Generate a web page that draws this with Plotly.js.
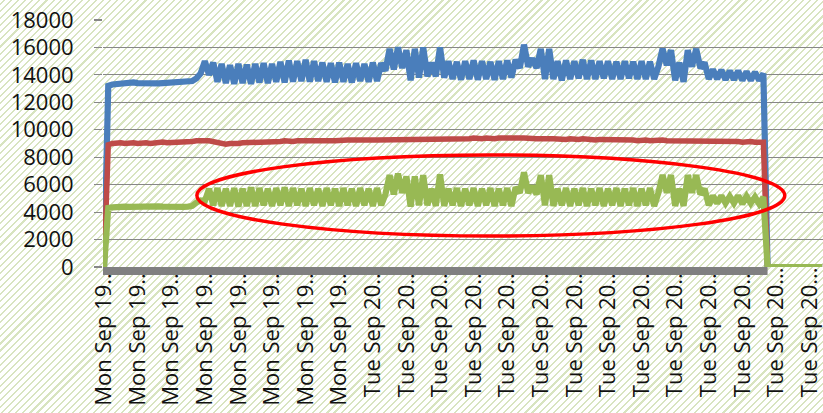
<!DOCTYPE html>
<html>
<head>
<meta charset="utf-8">
<script src="https://cdn.plot.ly/plotly-3.0.1.min.js"></script>
<style>
  html, body { margin: 0; padding: 0; }
  body {
    width: 823px; height: 413px; overflow: hidden;
    background-color: #ffffff;
    background-image: repeating-linear-gradient(-45deg, #d8e4c0 0px, #d8e4c0 1.5px, #ffffff 1.5px, #ffffff 5px);
  }
  #chart { width: 823px; height: 413px; }
</style>
</head>
<body>
<div id="chart"></div>
<script>
// Tick labels (one label every 8 samples)
const tickLabels = [
  "Mon Sep 19...", "Mon Sep 19...", "Mon Sep 19...", "Mon Sep 19...",
  "Mon Sep 19...", "Mon Sep 19...", "Mon Sep 19...", "Mon Sep 19...",
  "Tue Sep 20...", "Tue Sep 20...", "Tue Sep 20...", "Tue Sep 20...",
  "Tue Sep 20...", "Tue Sep 20...", "Tue Sep 20...", "Tue Sep 20...",
  "Tue Sep 20...", "Tue Sep 20...", "Tue Sep 20...", "Tue Sep 20...",
  "Tue Sep 20...", "Tue Sep 20..."
];
const labelEvery = 8;

// Series 1 (blue)
const seriesBlue = [
  0, 13200, 13300, 13350, 13400, 13450, 13400, 13450, 13400, 13380,
  13400, 13420, 13400, 13380, 13400, 13420, 13450, 13400, 13420, 13450,
  13500, 13550, 13750, 14100, 15000, 14000, 14900, 13500, 14800, 13400,
  14700, 13350, 14800, 13400, 14750, 13350, 14800, 13450, 14850, 13400,
  14800, 13500, 14950, 13450, 15050, 13500, 15000, 13550, 15100, 13500,
  15000, 13550, 14900, 13500, 14850, 13450, 14900, 13500, 14800, 13450,
  14850, 13550, 14800, 13500, 14900, 13550, 14850, 14300, 15900, 14400,
  16000, 14500, 15800, 13600, 15900, 13800, 16000, 13900, 14900, 13900,
  16000, 13800, 15000, 13700, 14950, 13650, 15000, 13700, 15050, 13650,
  15000, 13700, 14950, 13650, 15000, 13700, 15050, 13800, 15100, 14500,
  16200, 14600, 15200, 14500, 15900, 13700, 15900, 13700, 15000, 13600,
  15050, 13700, 15000, 13750, 15100, 13700, 15050, 13700, 15000, 13750,
  15000, 13700, 14950, 13700, 15000, 13750, 14950, 13700, 15000, 13700,
  14950, 13700, 14600, 15900, 14700, 15800, 13600, 14900, 13500, 15800,
  14600, 15900, 14500, 14900, 13700, 14400, 13700, 14350, 13650, 14300,
  13650, 14300, 13600, 14250, 13600, 14200, 13600, 14100, 0, 0,
  0, 0, 0, 0, 0, 0, 0, 0, 0, 0,
  0, 0
];

// Series 2 (red)
const seriesRed = [
  0, 8900, 9000, 9050, 9050, 9000, 9050, 9050, 9000, 9050,
  9050, 9000, 9050, 9050, 9100, 9050, 9050, 9100, 9100, 9050,
  9100, 9150, 9200, 9250, 9200, 9200, 9150, 9000, 8950, 8950,
  9000, 8950, 9000, 9050, 9050, 9100, 9050, 9100, 9100, 9150,
  9100, 9150, 9150, 9200, 9150, 9150, 9200, 9150, 9200, 9200,
  9150, 9200, 9200, 9250, 9200, 9200, 9250, 9200, 9250, 9250,
  9200, 9250, 9250, 9200, 9250, 9250, 9250, 9300, 9250, 9250,
  9300, 9250, 9300, 9300, 9250, 9300, 9300, 9350, 9300, 9300,
  9300, 9350, 9300, 9350, 9350, 9300, 9350, 9350, 9400, 9350,
  9350, 9400, 9350, 9350, 9400, 9350, 9400, 9400, 9350, 9400,
  9400, 9350, 9400, 9350, 9350, 9400, 9350, 9350, 9300, 9350,
  9300, 9350, 9300, 9300, 9350, 9300, 9300, 9250, 9300, 9300,
  9250, 9300, 9250, 9250, 9300, 9250, 9250, 9200, 9250, 9250,
  9200, 9250, 9200, 9250, 9200, 9200, 9250, 9200, 9200, 9150,
  9200, 9200, 9150, 9200, 9150, 9150, 9200, 9150, 9150, 9200,
  9150, 9150, 9100, 9150, 9150, 9100, 9150, 9100, 0, 0,
  0, 0, 0, 0, 0, 0, 0, 0, 0, 0,
  0, 0
];

// Series 3 (green)
const seriesGreen = [
  0, 4300, 4350, 4400, 4420, 4400, 4380, 4400, 4420, 4400,
  4380, 4400, 4400, 4420, 4400, 4380, 4400, 4420, 4400, 4380,
  4400, 4450, 4700, 4850, 4800, 5700, 4500, 5750, 4450, 5700,
  4450, 5750, 4400, 5700, 4450, 5800, 4450, 5750, 4500, 5700,
  4450, 5750, 4500, 5800, 4450, 5750, 4500, 5700, 4450, 5750,
  4500, 5700, 4450, 5750, 4500, 5700, 4450, 5750, 4500, 5700,
  4450, 5750, 4500, 5700, 4450, 5750, 4500, 5300, 6700, 5300,
  6800, 5400, 6600, 4400, 6600, 4500, 6700, 4500, 5700, 4450,
  6750, 4450, 5700, 4500, 5750, 4450, 5700, 4500, 5750, 4450,
  5700, 4500, 5750, 4450, 5700, 4500, 5750, 4450, 5800, 5400,
  6900, 5400, 5900, 5300, 6700, 4500, 6700, 4450, 5700, 4500,
  5750, 4450, 5700, 4500, 5750, 4450, 5700, 4500, 5750, 4450,
  5700, 4500, 5750, 4450, 5700, 4500, 5750, 4450, 5700, 4500,
  5750, 4450, 5400, 6700, 5400, 6700, 4450, 5700, 4450, 6700,
  5400, 6700, 5300, 5700, 4500, 5200, 4650, 5200, 4650, 5150,
  4650, 5200, 4600, 5150, 4650, 5100, 4600, 5100, 0, 0,
  0, 0, 0, 0, 0, 0, 0, 0, 0, 0,
  0, 0
];

const sampleIndex = seriesBlue.map((_, i) => i);
const tickPositions = tickLabels.map((_, k) => k * labelEvery);
// index where the recorded data stops (first zero after the plateau)
const lastDataIndex = seriesBlue.findIndex((v, i) => i > 0 && v === 0);

const traces = [
  { x: sampleIndex, y: seriesBlue, type: 'scatter', mode: 'lines',
    line: { color: '#4a7ebb', width: 6.2 }, hoverinfo: 'none' },
  { x: sampleIndex, y: seriesRed, type: 'scatter', mode: 'lines',
    line: { color: '#be4b48', width: 5.5 }, hoverinfo: 'none' },
  { x: sampleIndex, y: seriesGreen, type: 'scatter', mode: 'lines',
    line: { color: '#98b954', width: 6.2 }, hoverinfo: 'none' }
];

const layout = {
  width: 823, height: 413,
  margin: { l: 103, r: 0, t: 20, b: 146 },
  paper_bgcolor: 'rgba(0,0,0,0)',
  plot_bgcolor: 'rgba(0,0,0,0)',
  showlegend: false,
  font: { family: '"Open Sans", "Liberation Sans", sans-serif', size: 22, color: '#111111' },
  xaxis: {
    range: [-0.25, 171.2],
    tickmode: 'array', tickvals: tickPositions, ticktext: tickLabels,
    tickangle: -90, ticks: '', showgrid: false, zeroline: false, showline: false,
    tickfont: { size: 22, color: '#111111' },
    ticklabelstandoff: -5
  },
  yaxis: {
    range: [0, 18000], dtick: 2000, tick0: 0, tickformat: 'd',
    showgrid: true, gridcolor: '#878787', gridwidth: 1.2,
    zeroline: false, showline: false,
    ticks: 'outside', ticklen: 8, tickcolor: '#878787', tickwidth: 1.2,
    ticklabelstandoff: 16,
    tickfont: { size: 22, color: '#111111' }
  },
  shapes: [
    { type: 'rect', xref: 'x', yref: 'paper', x0: -0.25, x1: lastDataIndex,
      y0: -8 / 247, y1: 0, fillcolor: '#808080', line: { width: 0 }, layer: 'above' },
    { type: 'circle', xref: 'x', yref: 'y', x0: 22.1, x1: 162.1, y0: 2260, y1: 8160,
      line: { color: '#ff0000', width: 3.5 }, layer: 'above' }
  ]
};

Plotly.newPlot('chart', traces, layout, { displayModeBar: false, staticPlot: true });
</script>
</body>
</html>
